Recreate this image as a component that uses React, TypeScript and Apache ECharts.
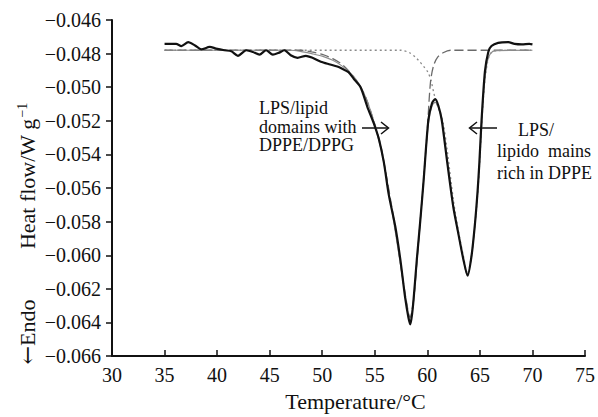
import React, { useEffect, useRef } from "react";
import * as echarts from "echarts";

// Temperature (°C), heat flow (W/g) pairs
const measured: number[][] = [
  [35.0, -0.04742], [36.1, -0.04742], [36.6, -0.04755], [37.25, -0.04732], [37.9, -0.04752],
  [38.5, -0.04775], [39.3, -0.0476], [39.9, -0.0477], [40.7, -0.0478], [41.35, -0.04786],
  [41.98, -0.04813], [42.77, -0.0478], [43.4, -0.0479], [44.03, -0.04806], [44.66, -0.0478],
  [45.3, -0.04806], [45.9, -0.04794], [46.4, -0.0478], [47.0, -0.0481], [47.65, -0.04825],
  [48.45, -0.04813], [49.07, -0.04825], [49.87, -0.04848], [50.65, -0.04863], [51.44, -0.04877],
  [51.9, -0.0489], [52.5, -0.0491], [53.0, -0.0495], [53.65, -0.05], [54.3, -0.05118],
  [54.9, -0.05214], [55.4, -0.05311], [55.86, -0.05446], [56.33, -0.05639], [56.96, -0.05832],
  [57.43, -0.06025], [57.9, -0.06257], [58.2, -0.0637], [58.38, -0.06411], [58.55, -0.0635],
  [58.7, -0.06257], [59.0, -0.06025], [59.33, -0.05794], [59.64, -0.0556], [60.1, -0.05195],
  [60.45, -0.05095], [60.75, -0.0507], [61.05, -0.0511], [61.37, -0.05195], [61.9, -0.0545],
  [62.48, -0.05716], [62.95, -0.05871], [63.43, -0.06025], [63.83, -0.06122], [64.2, -0.06006],
  [64.53, -0.05813], [64.78, -0.0562], [64.95, -0.0545], [65.16, -0.05195], [65.48, -0.04906],
  [65.8, -0.0479], [66.1, -0.04755], [66.74, -0.04736], [67.7, -0.04732], [68.3, -0.04742],
  [69.0, -0.04745], [69.7, -0.04742], [70.0, -0.04745],
];

const fitSum: number[][] = [
  [35, -0.0478], [47, -0.0478], [48, -0.04788], [49, -0.048], [50, -0.04815], [51, -0.0484],
  [51.8, -0.0487], [52.6, -0.0491], [53.3, -0.0496], [54, -0.0504], [54.6, -0.0514],
  [55.2, -0.0527], [55.8, -0.0543], [56.4, -0.0565], [57, -0.0588], [57.5, -0.0608],
  [58.0, -0.0628], [58.35, -0.0639], [58.7, -0.0627], [59.0, -0.0605], [59.3, -0.0581],
  [59.64, -0.0556], [60.1, -0.0522], [60.45, -0.0511], [60.75, -0.0509], [61.05, -0.0512],
  [61.4, -0.052], [61.9, -0.0543], [62.5, -0.0572], [63.0, -0.0589], [63.45, -0.0603],
  [63.8, -0.0612], [64.2, -0.0601], [64.55, -0.0581], [64.8, -0.0562], [65.15, -0.0525],
  [65.4, -0.05], [65.7, -0.0485], [66.0, -0.048], [66.5, -0.04782], [70, -0.0478],
];

const peak1: number[][] = [
  [35, -0.0478], [48, -0.0478], [49, -0.0479], [50, -0.04805], [51, -0.0483], [52, -0.0487],
  [53, -0.0494], [54, -0.0504], [54.8, -0.0518], [55.5, -0.0533], [56.2, -0.0556],
  [56.9, -0.0582], [57.5, -0.0607], [58.0, -0.0627], [58.35, -0.0637], [58.7, -0.0626],
  [59.0, -0.0604], [59.35, -0.0578], [59.7, -0.055], [60.0, -0.0525], [60.3, -0.0497],
  [60.6, -0.0487], [61.0, -0.0482], [61.5, -0.04795], [62.2, -0.0478], [70, -0.0478],
];

const peak2: number[][] = [
  [35, -0.0478], [57.5, -0.0478], [58.3, -0.04795], [58.85, -0.0482], [59.3, -0.0485],
  [59.7, -0.0488], [60.05, -0.0491], [60.35, -0.0496], [60.6, -0.0503], [60.9, -0.051],
  [61.2, -0.0515], [61.5, -0.0521], [61.9, -0.0538], [62.5, -0.0568], [63.0, -0.0587],
  [63.45, -0.0601], [63.8, -0.0611], [64.2, -0.06], [64.55, -0.058], [64.85, -0.0558],
  [65.15, -0.0525], [65.4, -0.0501], [65.7, -0.0486], [66.0, -0.048], [66.6, -0.04782],
  [70, -0.0478],
];

const xRange = [30, 75, 5];
const yRange = [-0.066, -0.046, 0.002];

const leftNote = ["LPS/lipid", "domains with", "DPPE/DPPG"];
const rightNote = ["LPS/", "lipido  mains", "rich in DPPE"];
const xName = "Temperature/°C";

const FONT = "'Liberation Serif', 'Times New Roman', serif";

export default function App() {
  const ref = useRef<HTMLDivElement>(null);
  useEffect(() => {
    if (!ref.current) return;
    const chart = echarts.init(ref.current, undefined, { renderer: "svg" });
    const textStyle = (extra: any) => ({
      fill: "#111",
      fontFamily: FONT,
      ...extra,
    });
    chart.setOption({
      animation: false,
      backgroundColor: "#fff",
      grid: { left: 112, right: 11, top: 20, bottom: 51 },
      xAxis: {
        type: "value",
        min: xRange[0],
        max: xRange[1],
        interval: xRange[2],
        name: xName,
        nameLocation: "middle",
        nameGap: 22,
        nameTextStyle: { fontFamily: FONT, fontSize: 22, color: "#111", padding: [0, 0, 0, 14] },
        axisLine: { lineStyle: { color: "#111", width: 2 } },
        axisTick: { inside: true, length: 6, lineStyle: { color: "#111", width: 1.5 } },
        axisLabel: { fontFamily: FONT, fontSize: 20, color: "#111", margin: 9 },
        splitLine: { show: false },
      },
      yAxis: {
        type: "value",
        min: yRange[0],
        max: yRange[1],
        interval: yRange[2],
        axisLine: { show: true, lineStyle: { color: "#111", width: 2 } },
        axisTick: { show: true, inside: false, length: 6, lineStyle: { color: "#111", width: 1.5 } },
        axisLabel: {
          fontFamily: FONT,
          fontSize: 20,
          color: "#111",
          margin: 11,
          formatter: (v: number) => "\u2212" + Math.abs(v).toFixed(3),
        },
        splitLine: { show: false },
      },
      series: [
        {
          type: "line",
          data: peak2,
          showSymbol: false,
          smooth: 0.3,
          lineStyle: { color: "#8a8a8a", width: 1.3, type: [2, 3] },
          z: 2,
        },
        {
          type: "line",
          data: peak1,
          showSymbol: false,
          smooth: 0.3,
          lineStyle: { color: "#6a6a6a", width: 1.3, type: [9, 4] },
          z: 2,
        },
        {
          type: "line",
          data: fitSum,
          showSymbol: false,
          smooth: 0.3,
          lineStyle: { color: "#8c8c8c", width: 1.1 },
          z: 3,
        },
        {
          type: "line",
          data: measured,
          showSymbol: false,
          smooth: 0.25,
          lineStyle: { color: "#111", width: 2.2 },
          z: 4,
        },
      ],
      graphic: [
        {
          type: "text",
          x: 27,
          y: 176,
          rotation: Math.PI / 2,
          style: textStyle({
            text: "Heat flow/W g{sup|\u22121}",
            fontSize: 22,
            align: "center",
            verticalAlign: "middle",
            rich: {
              sup: { fontSize: 14, fontFamily: FONT, fill: "#111", verticalAlign: "top", padding: [0, 0, 10, 1] },
            },
          }),
        },
        {
          type: "text",
          x: 27,
          y: 332,
          rotation: Math.PI / 2,
          style: textStyle({
            text: "{arr|\u2190}Endo",
            fontSize: 22,
            align: "center",
            verticalAlign: "middle",
            rich: {
              arr: { fontSize: 22, fontFamily: "'DejaVu Serif', serif", fill: "#111" },
            },
          }),
        },
        ...leftNote.map((t, i) => ({
          type: "text",
          x: 259,
          y: 108 + i * 18.5,
          style: textStyle({ text: t, fontSize: 18, align: "left", verticalAlign: "middle" }),
        })),
        {
          type: "text",
          x: 518,
          y: 130,
          style: textStyle({ text: rightNote[0], fontSize: 18, align: "left", verticalAlign: "middle" }),
        },
        ...rightNote.slice(1).map((t, i) => ({
          type: "text",
          x: 497,
          y: 151 + i * 22,
          style: textStyle({ text: t, fontSize: 18, align: "left", verticalAlign: "middle" }),
        })),
        { type: "line", shape: { x1: 362, y1: 128, x2: 388, y2: 128 }, style: { stroke: "#111", lineWidth: 1.5 } },
        {
          type: "polyline",
          shape: { points: [[381, 122], [388.5, 128], [381, 134]] },
          style: { stroke: "#111", lineWidth: 1.5, fill: null },
        },
        { type: "line", shape: { x1: 470, y1: 128, x2: 497, y2: 128 }, style: { stroke: "#111", lineWidth: 1.5 } },
        {
          type: "polyline",
          shape: { points: [[477, 122], [469.5, 128], [477, 134]] },
          style: { stroke: "#111", lineWidth: 1.5, fill: null },
        },
      ],
    });
    return () => chart.dispose();
  }, []);
  return (
    <div
      ref={ref}
      style={{ position: "fixed", left: 0, top: 0, width: 598, height: 417, background: "#fff" }}
    />
  );
}
